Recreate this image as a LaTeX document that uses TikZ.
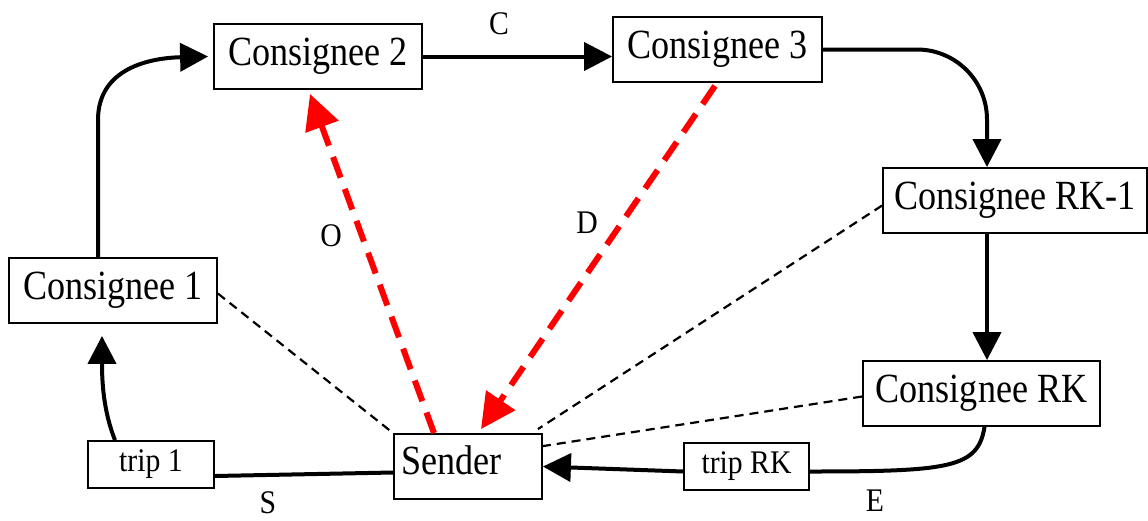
\documentclass[tikz,border=0pt]{standalone}
\usepackage{fontspec}
\setmainfont{Liberation Serif}[FakeStretch=0.87]
\newfontfamily\smallfont{Liberation Serif}[FakeStretch=0.9]
\usetikzlibrary{arrows.meta,calc}
\begin{document}
\begin{tikzpicture}[x=1pt,y=-1pt,
  box/.style={draw, line width=1.8pt, inner sep=0pt, minimum height=65pt,
    font=\fontsize{41.5}{48}\selectfont},
  tripbox/.style={draw, line width=1.8pt, inner sep=0pt, minimum height=47pt,
    font=\smallfont\fontsize{33}{38}\selectfont},
  lbl/.style={inner sep=0pt, font=\smallfont\fontsize{33}{38}\selectfont},
  conn/.style={line width=4pt},
  arr/.style={conn, -{Triangle[length=28pt,width=28pt]}},
  redarr/.style={draw=red, line width=6pt, dash pattern=on 22pt off 12pt,
    -{Triangle[length=35pt,width=34pt]}},
  thindash/.style={line width=2.2pt, dash pattern=on 9pt off 6pt}]
\useasboundingbox (0,0) rectangle (1148,520);

\node[box, minimum width=208pt] (c2) at (318,56.5) {Consignee 2};
\node[box, minimum width=209pt] (c3) at (717.5,49.5) {Consignee 3};
\node[box, minimum width=264pt] (rk1) at (1015,200.5) {Consignee RK-1};
\node[box, minimum width=208pt] (c1) at (113,290.5) {Consignee 1};
\node[box, minimum width=237pt] (rk) at (981.5,393.5) {Consignee RK};
\node[box, minimum width=148pt] (sender) at (468,466.5) {};
\node[anchor=base west, inner sep=0pt, font=\fontsize{41.5}{48}\selectfont] (sendertext) at (401,474) {Sender};
\node[tripbox, minimum width=126pt] (trip1) at (151,464.5) {trip 1};
\node[tripbox, minimum width=125pt] (tripRK) at (746.5,466.5) {trip RK};

\node[lbl] (lC) at (499,24) {C};
\node[lbl] (lO) at (331,236) {O};
\node[lbl] (lD) at (587,223) {D};
\node[lbl] (lS) at (268,503) {S};
\node[lbl] (lE) at (875,501) {E};

\coordinate (rk1in) at ([xshift=-28pt]rk1.north);

% thin dashed lines
\draw[thindash] ([yshift=-3pt]c1.east) -- (sender.north west);
\draw[thindash] ([yshift=-5pt]rk1.west) -- ([xshift=-5pt,yshift=4pt]sender.north east);
\draw[thindash] ([yshift=-3pt]rk.west) -- ([yshift=-13pt]sender.north east);

% solid connectors
\draw[arr] ([xshift=-15pt]c1.north) -- (98,120) .. controls (98,68) and (150,58) .. ([xshift=-5pt]c2.west);
\draw[arr] (c2.east) -- (c2.east -| c3.west);
\draw[arr, rounded corners=70pt] (c3.east) -- (c3.east -| rk1in) -- (rk1in);
\draw[arr] ([xshift=-28pt]rk1.south) -- ([xshift=-28pt]rk1.south |- rk.north);
\draw[conn] ([xshift=3pt]rk.south) .. controls (978,468) and (950,471.5) .. ([yshift=-5pt]tripRK.east);
\draw[arr] ([yshift=-5pt]tripRK.west) -- (sender.east);
\draw[conn] ([yshift=-6pt]sender.west) -- ([yshift=-11.5pt]trip1.east);
\draw[arr] ([xshift=-36pt]trip1.north) .. controls (103,410) and (102,380) .. ([xshift=-11pt,yshift=-12pt]c1.south);

% red dashed arrows
\draw[redarr] ([xshift=-34pt]sender.north) -- ([xshift=-8pt,yshift=-4pt]c2.south);
\draw[redarr] ([xshift=-2.5pt,yshift=-3pt]c3.south) -- ([xshift=13pt,yshift=4pt]sender.north);
\end{tikzpicture}
\end{document}
